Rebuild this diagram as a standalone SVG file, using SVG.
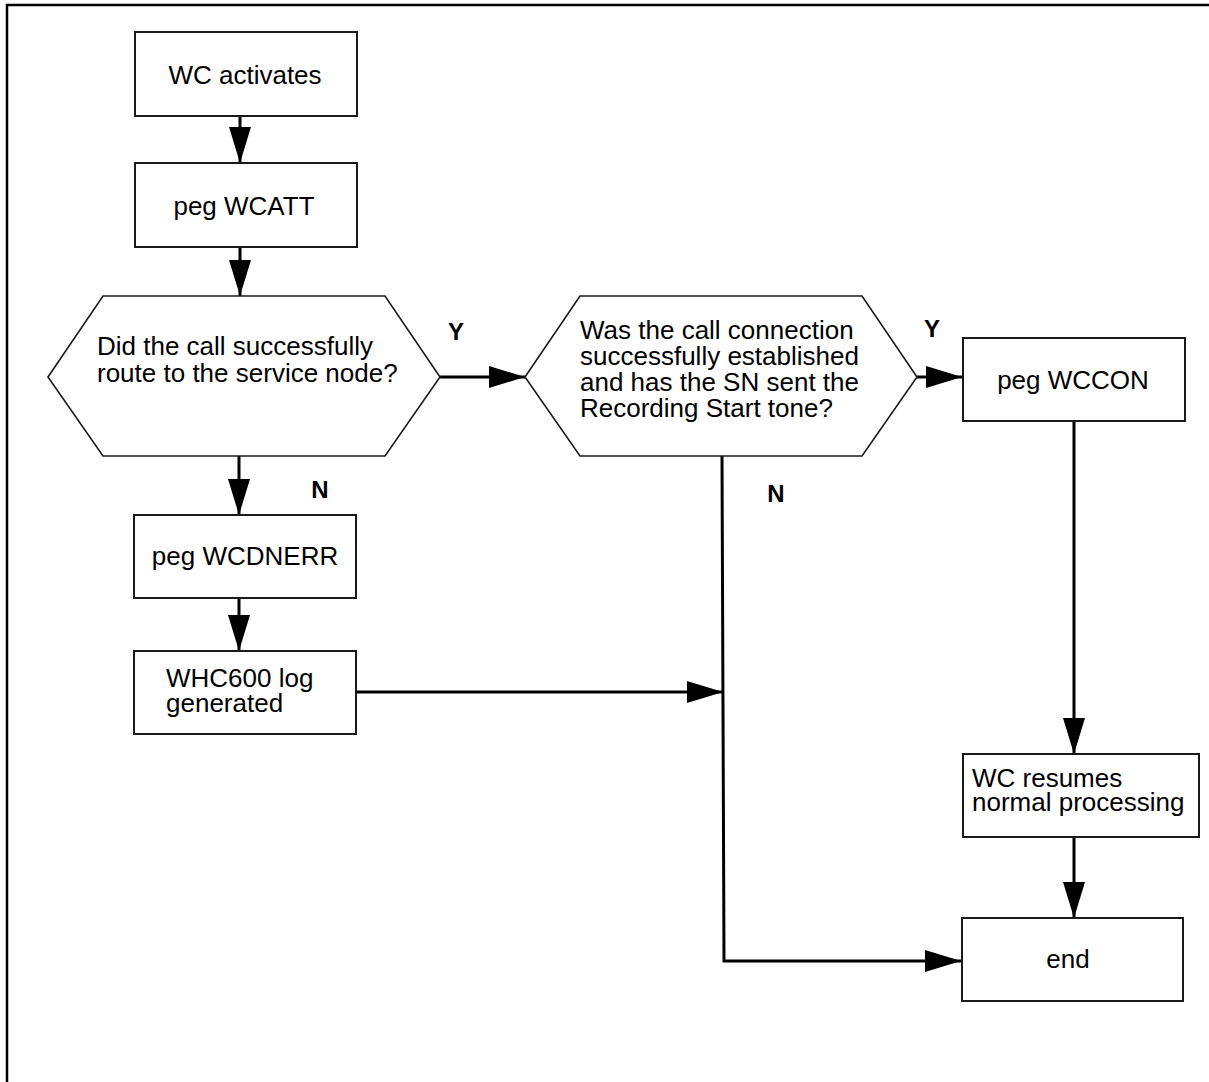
<svg xmlns="http://www.w3.org/2000/svg" width="1209" height="1082" viewBox="0 0 1209 1082">
<style>
.box{fill:#fff;stroke:#1a1a1a;stroke-width:2}
.hex{fill:#fff;stroke:#1a1a1a;stroke-width:1.6}
.t{font-family:"Liberation Sans",Arial,sans-serif;font-size:26px;fill:#000}
.c{text-anchor:middle}
.lbl{font-family:"Liberation Sans",Arial,sans-serif;font-size:24px;font-weight:bold;fill:#000;text-anchor:middle}
.con{fill:none;stroke:#000;stroke-width:3;marker-end:url(#ah)}
.frame{fill:none;stroke:#000;stroke-width:2.5}
</style>
<defs>
<marker id="ah" markerUnits="userSpaceOnUse" markerWidth="36" markerHeight="22" refX="36" refY="11" orient="auto">
<path d="M0,0 L36,11 L0,22 z" fill="#000"/>
</marker>
</defs>
<rect width="1209" height="1082" fill="#fff"/>
<g id="frame">
<path class="frame" d="M7,1082 L7,5 L1209,5"/>
</g>
<g id="connectors">
<path class="con" d="M240,116 L240,163"/>
<path class="con" d="M240,247 L240,296"/>
<path class="con" d="M440,377 L525,377"/>
<path class="con" d="M239,456 L239,515"/>
<path class="con" d="M239,598 L239,651"/>
<path class="con" d="M356,692 L723,692"/>
<path class="con" d="M917,377 L962,377"/>
<path class="con" d="M1074,421 L1074,754"/>
<path class="con" d="M1074,837 L1074,918"/>
<path class="con" d="M722,456 L724,961 L961,961"/>
<text class="lbl" x="456" y="340">Y</text>
<text class="lbl" x="932" y="337">Y</text>
<text class="lbl" x="320" y="498">N</text>
<text class="lbl" x="776" y="502">N</text>
</g>
<g id="n1">
<rect class="box" x="135" y="32" width="222" height="84"/>
<text class="t c" x="245" y="84">WC activates</text>
</g>
<g id="n2">
<rect class="box" x="135" y="163" width="222" height="84"/>
<text class="t c" x="244" y="215">peg WCATT</text>
</g>
<g id="d1">
<polygon class="hex" points="48,377 103,296 385,296 440,377 385,456 103,456"/>
<text class="t" x="97" y="355">Did the call successfully</text>
<text class="t" x="97" y="382">route to the service node?</text>
</g>
<g id="d2">
<polygon class="hex" points="525,377 580,296 862,296 917,377 862,456 580,456"/>
<text class="t" x="580" y="339">Was the call connection</text>
<text class="t" x="580" y="365">successfully established</text>
<text class="t" x="580" y="391">and has the SN sent the</text>
<text class="t" x="580" y="417">Recording Start tone?</text>
</g>
<g id="n3">
<rect class="box" x="963" y="338" width="222" height="83"/>
<text class="t c" x="1073" y="389">peg WCCON</text>
</g>
<g id="n4">
<rect class="box" x="134" y="515" width="222" height="83"/>
<text class="t c" x="245" y="565">peg WCDNERR</text>
</g>
<g id="n5">
<rect class="box" x="134" y="651" width="222" height="83"/>
<text class="t" x="166" y="687">WHC600 log</text>
<text class="t" x="166" y="712">generated</text>
</g>
<g id="n6">
<rect class="box" x="963" y="754" width="236" height="83"/>
<text class="t" x="972" y="787">WC resumes</text>
<text class="t" x="972" y="811">normal processing</text>
</g>
<g id="n7">
<rect class="box" x="962" y="918" width="221" height="83"/>
<text class="t c" x="1068" y="968">end</text>
</g>
</svg>
